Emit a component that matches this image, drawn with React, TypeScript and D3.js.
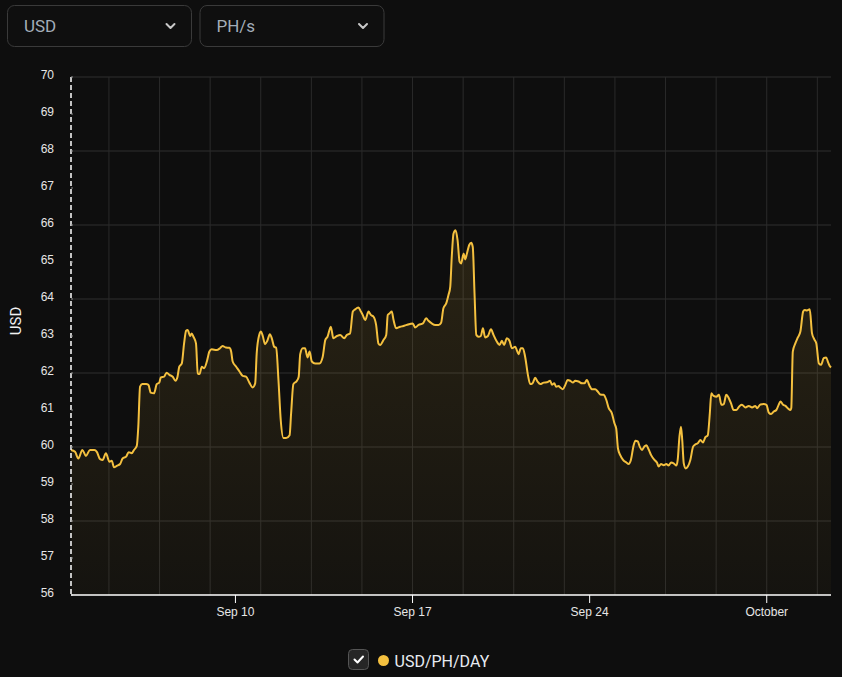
import React, { useEffect } from 'react';
import * as d3 from 'd3';

const WIDTH = 842;
const HEIGHT = 677;

const selectorLabels = ['USD', 'PH/s'];
const yAxisTitle = 'USD';
const legendLabel = 'USD/PH/DAY';
const yTickValues = [56, 57, 58, 59, 60, 61, 62, 63, 64, 65, 66, 67, 68, 69, 70];
const yGridValues = [58, 60, 62, 64, 66, 68, 70];

// [day of September 2023 (fractional, October continues as 31+), USD per PH per day]
const usdPerPhDay: [number, number][] = [
  [3.5, 59.92], [3.66, 59.87], [3.79, 59.69], [3.95, 59.92], [4.09, 59.76],
  [4.25, 59.92], [4.42, 59.92], [4.52, 59.87], [4.65, 59.67], [4.75, 59.65],
  [4.88, 59.83], [5.02, 59.6], [5.11, 59.63], [5.2, 59.45], [5.31, 59.49],
  [5.44, 59.54], [5.54, 59.69], [5.68, 59.74], [5.78, 59.86], [5.9, 59.83],
  [5.99, 59.92], [6.1, 60.03], [6.16, 60.55], [6.23, 61.63], [6.32, 61.7],
  [6.47, 61.7], [6.56, 61.68], [6.65, 61.47], [6.78, 61.45], [6.89, 61.7],
  [6.99, 61.74], [7.05, 61.88], [7.18, 61.9], [7.28, 62.01], [7.39, 61.95],
  [7.52, 61.9], [7.63, 61.79], [7.71, 61.9], [7.78, 62.17], [7.88, 62.26],
  [7.97, 62.8], [8.05, 63.14], [8.11, 63.16], [8.21, 63.0], [8.27, 63.07],
  [8.34, 62.98], [8.44, 62.8], [8.51, 61.99], [8.58, 61.97], [8.67, 62.17],
  [8.76, 62.13], [8.87, 62.31], [8.97, 62.58], [9.06, 62.64], [9.26, 62.62],
  [9.39, 62.67], [9.49, 62.73], [9.62, 62.69], [9.76, 62.68], [9.83, 62.58],
  [9.89, 62.31], [10.03, 62.17], [10.16, 62.04], [10.29, 61.92], [10.42, 61.9],
  [10.55, 61.74], [10.68, 61.61], [10.78, 61.72], [10.84, 62.53], [10.94, 63.03],
  [11.01, 63.12], [11.08, 63.0], [11.17, 62.78], [11.26, 62.87], [11.36, 63.05],
  [11.44, 62.93], [11.53, 62.71], [11.61, 62.68], [11.7, 61.81], [11.79, 60.73],
  [11.9, 60.24], [12.0, 60.24], [12.14, 60.32], [12.2, 60.91], [12.29, 61.7],
  [12.43, 61.79], [12.5, 61.9], [12.56, 62.51], [12.66, 62.67], [12.75, 62.67],
  [12.85, 62.42], [12.93, 62.58], [13.02, 62.31], [13.15, 62.26], [13.32, 62.26],
  [13.45, 62.44], [13.55, 62.89], [13.64, 62.98], [13.77, 63.25], [13.87, 62.94],
  [14.01, 63.0], [14.14, 63.03], [14.3, 62.94], [14.4, 63.03], [14.53, 63.07],
  [14.64, 63.66], [14.73, 63.72], [14.86, 63.77], [14.96, 63.66], [15.03, 63.57],
  [15.13, 63.43], [15.26, 63.66], [15.35, 63.57], [15.46, 63.52], [15.56, 63.3],
  [15.65, 62.8], [15.72, 62.76], [15.85, 62.89], [15.96, 63.03], [16.02, 63.57],
  [16.09, 63.61], [16.18, 63.66], [16.25, 63.43], [16.35, 63.21], [16.51, 63.25],
  [16.64, 63.27], [16.77, 63.3], [17.01, 63.34], [17.1, 63.23], [17.24, 63.3],
  [17.41, 63.34], [17.54, 63.48], [17.63, 63.41], [17.76, 63.34], [17.9, 63.3],
  [18.03, 63.3], [18.13, 63.36], [18.22, 63.75], [18.33, 63.88], [18.42, 64.11],
  [18.49, 64.33], [18.55, 65.14], [18.62, 65.77], [18.7, 65.86], [18.78, 65.59],
  [18.86, 65.01], [18.92, 64.96], [19.02, 65.23], [19.08, 65.07], [19.15, 65.23],
  [19.24, 65.46], [19.32, 65.52], [19.38, 65.41], [19.45, 64.15], [19.52, 63.03],
  [19.61, 62.98], [19.7, 63.0], [19.78, 63.21], [19.87, 62.96], [19.98, 63.0],
  [20.1, 63.18], [20.2, 63.03], [20.33, 62.85], [20.44, 62.76], [20.53, 62.87],
  [20.62, 62.76], [20.73, 62.94], [20.83, 62.87], [20.93, 62.67], [21.06, 62.71],
  [21.12, 62.62], [21.19, 62.51], [21.28, 62.67], [21.36, 62.67], [21.45, 62.44],
  [21.56, 61.95], [21.65, 61.7], [21.74, 61.72], [21.85, 61.87], [21.94, 61.77],
  [22.05, 61.7], [22.18, 61.74], [22.31, 61.75], [22.44, 61.79], [22.51, 61.68],
  [22.6, 61.72], [22.68, 61.63], [22.77, 61.65], [22.84, 61.61], [22.94, 61.56],
  [23.04, 61.68], [23.13, 61.81], [23.23, 61.79], [23.34, 61.74], [23.43, 61.79],
  [23.56, 61.77], [23.7, 61.72], [23.79, 61.72], [23.89, 61.81], [24.0, 61.65],
  [24.09, 61.56], [24.22, 61.56], [24.32, 61.5], [24.42, 61.42], [24.55, 61.41],
  [24.66, 61.27], [24.75, 61.06], [24.88, 60.91], [24.98, 60.64], [25.05, 60.5],
  [25.12, 59.96], [25.21, 59.78], [25.32, 59.65], [25.45, 59.58], [25.54, 59.54],
  [25.63, 59.65], [25.74, 60.05], [25.81, 60.17], [25.9, 60.15], [25.98, 60.01],
  [26.07, 59.92], [26.16, 60.01], [26.24, 60.05], [26.33, 59.94], [26.43, 59.78],
  [26.56, 59.65], [26.66, 59.58], [26.73, 59.47], [26.82, 59.54], [26.93, 59.51],
  [27.03, 59.54], [27.12, 59.5], [27.22, 59.58], [27.32, 59.56], [27.43, 59.5],
  [27.48, 59.65], [27.55, 60.28], [27.61, 60.55], [27.66, 60.19], [27.72, 59.56],
  [27.8, 59.42], [27.88, 59.47], [27.98, 59.65], [28.09, 60.01], [28.18, 60.07],
  [28.27, 60.1], [28.38, 60.19], [28.48, 60.12], [28.57, 60.26], [28.67, 60.32],
  [28.75, 60.91], [28.81, 61.45], [28.9, 61.38], [29.01, 61.36], [29.11, 61.41],
  [29.21, 61.14], [29.3, 61.16], [29.4, 61.41], [29.5, 61.32], [29.59, 61.18],
  [29.69, 61.0], [29.8, 61.0], [29.93, 61.11], [30.02, 61.14], [30.16, 61.07],
  [30.29, 61.11], [30.42, 61.07], [30.55, 61.11], [30.62, 61.05], [30.75, 61.15],
  [30.88, 61.16], [30.99, 61.14], [31.08, 60.93], [31.17, 60.89], [31.28, 60.96],
  [31.38, 61.0], [31.47, 61.14], [31.54, 61.23], [31.65, 61.14], [31.74, 61.11],
  [31.83, 61.05], [31.94, 61.0], [31.97, 61.05], [32.03, 62.58], [32.13, 62.8],
  [32.23, 62.96], [32.33, 63.12], [32.44, 63.66], [32.5, 63.7], [32.59, 63.69],
  [32.7, 63.72], [32.79, 63.07], [32.88, 62.91], [32.96, 62.8], [33.06, 62.26],
  [33.15, 62.22], [33.25, 62.4], [33.35, 62.42], [33.43, 62.28], [33.49, 62.19],
  [33.54, 62.15],
];

const DAY_MS = 86400000;
const SEP_1 = new Date(2023, 8, 1, 0, 0, 0).getTime();
const toDate = (d: number) => new Date(SEP_1 + (d - 1) * DAY_MS);

const GOLD = '#F4C03F';
const BG = '#0e0e0e';

export default function App() {
  useEffect(() => {
    document.body.style.margin = '0';
    document.body.style.background = BG;
  }, []);

  const left = 71;
  const right = 831;
  const top = 77;
  const bottom = 595;

  const pts = usdPerPhDay.map(([d, v]) => ({ date: toDate(d), value: v }));
  const x = d3
    .scaleTime()
    .domain([pts[0].date, pts[pts.length - 1].date])
    .range([left, right]);
  const y = d3.scaleLinear().domain([56, 70]).range([bottom, top]);

  const line = d3
    .line<{ date: Date; value: number }>()
    .x((p) => x(p.date))
    .y((p) => y(p.value))
    .curve(d3.curveMonotoneX);
  const area = d3
    .area<{ date: Date; value: number }>()
    .x((p) => x(p.date))
    .y0(bottom)
    .y1((p) => y(p.value))
    .curve(d3.curveMonotoneX);

  const gridDays = x.ticks(d3.timeDay.every(2) as d3.TimeInterval);
  const weekTicks = x.ticks(d3.timeWeek.every(1) as d3.TimeInterval);
  const fmt = x.tickFormat();

  const font = 'Roboto, "Liberation Sans", Arial, sans-serif';
  const axisFont = '"Liberation Sans", Arial, sans-serif';

  return (
    <div style={{ position: 'absolute', left: 0, top: 0, width: WIDTH, height: HEIGHT, background: BG }}>
      <svg width={WIDTH} height={HEIGHT} style={{ display: 'block' }}>
        <defs>
          <linearGradient id="fillGrad" x1="0" y1={top} x2="0" y2={bottom} gradientUnits="userSpaceOnUse">
            <stop offset="0" stopColor={GOLD} stopOpacity={0.16} />
            <stop offset="1" stopColor={GOLD} stopOpacity={0.03} />
          </linearGradient>
        </defs>
        <rect x={0} y={0} width={WIDTH} height={HEIGHT} fill={BG} />

        {/* selectors */}
        {selectorLabels.map((label, i) => {
          const bx = 7.5 + i * 192.5;
          return (
            <g key={label}>
              <rect x={bx} y={5.5} width={184} height={41} rx={7} fill="#0f0f0f" stroke="#3a3a3a" strokeWidth={1} />
              <text x={bx + 16.5} y={31.5} fontFamily={font} fontSize={17} fill="#a3adb9">
                {label}
              </text>
              <path
                d={`M${bx + 159},24 L${bx + 163},28 L${bx + 167},24`}
                fill="none"
                stroke="#c8c8c8"
                strokeWidth={2}
                strokeLinecap="round"
                strokeLinejoin="round"
              />
            </g>
          );
        })}

        {/* grid */}
        {yGridValues.map((v) => (
          <line key={'h' + v} x1={left} x2={right} y1={y(v)} y2={y(v)} stroke="#2e2e2e" strokeWidth={1} />
        ))}
        {gridDays.map((d) => (
          <line key={'v' + d.getTime()} x1={x(d)} x2={x(d)} y1={top} y2={bottom} stroke="#2a2a2a" strokeWidth={1} />
        ))}

        {/* area + line */}
        <path d={area(pts) || ''} fill="url(#fillGrad)" />
        <path d={line(pts) || ''} fill="none" stroke={GOLD} strokeWidth={2} strokeLinejoin="round" />

        {/* y axis */}
        <line x1={left} x2={left} y1={top} y2={bottom} stroke="#ffffff" strokeWidth={1.5} strokeDasharray="5,3" />
        {yTickValues.map((v) => (
          <g key={'yt' + v}>
            <line x1={left} x2={left + 2} y1={y(v)} y2={y(v)} stroke="#8a8a8a" strokeWidth={1} />
            <text x={54} y={y(v) + 1.5} textAnchor="end" fontFamily={axisFont} fontSize={12} fill="#e6e6e6">
              {v}
            </text>
          </g>
        ))}
        <text
          transform={`translate(20.5,${321}) rotate(-90)`}
          textAnchor="middle"
          fontFamily={font}
          fontSize={15}
          fill="#f2f2f2"
        >
          {yAxisTitle}
        </text>

        {/* x axis */}
        <line x1={left} x2={right} y1={bottom} y2={bottom} stroke="#ffffff" strokeWidth={1.5} />
        {weekTicks.map((d) => (
          <g key={'xt' + d.getTime()}>
            <line x1={x(d)} x2={x(d)} y1={bottom} y2={bottom + 8} stroke="#ffffff" strokeWidth={1} />
            <text x={x(d)} y={bottom + 21} textAnchor="middle" fontFamily={axisFont} fontSize={12} fill="#e6e6e6">
              {fmt(d)}
            </text>
          </g>
        ))}

        {/* legend */}
        <rect x={348.5} y={649.5} width={20} height={20} rx={4} fill="#262626" stroke="#555" strokeWidth={1} />
        <path d="M354.5,659.5 L357.5,662.5 L363,656.5" fill="none" stroke="#ffffff" strokeWidth={2} strokeLinecap="round" strokeLinejoin="round" />
        <circle cx={383.5} cy={660.5} r={5.5} fill={GOLD} />
        <text x={394.5} y={666.5} fontFamily={font} fontSize={16} fill="#e8ecf2">
          {legendLabel}
        </text>
      </svg>
    </div>
  );
}
